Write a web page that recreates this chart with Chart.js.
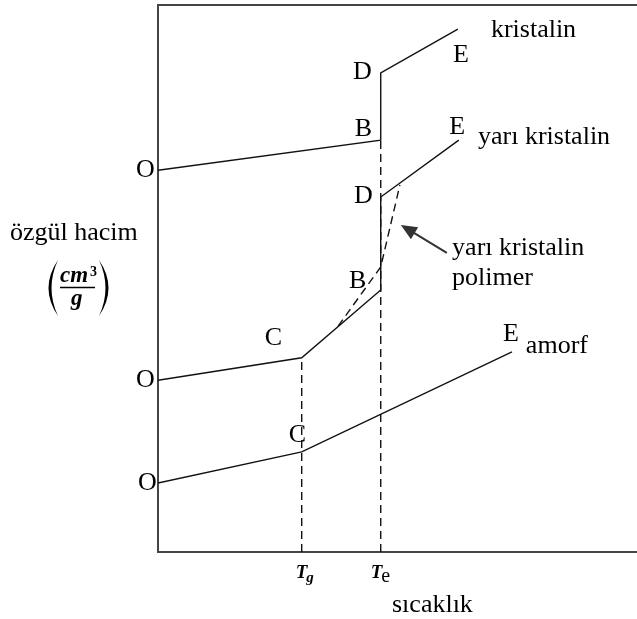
<!DOCTYPE html>
<html>
<head>
<meta charset="utf-8">
<script src="https://cdn.jsdelivr.net/npm/chart.js@4/dist/chart.umd.min.js"></script>
<style>
  body { margin: 0; background: #fff; }
  canvas { display: block; }
</style>
</head>
<body>
<canvas id="myChart" width="637" height="619"></canvas>
<script>
// transition temperatures on the temperature axis
const Tg = 30;
const Te = 46.5;

// crystalline polymer: O -> B, melting jump B -> D, then D -> E
const kristalinX = [0, Te, Te, 62.6];
const kristalinY = [69.8, 75.3, 87.6, 95.6];

// semi-crystalline: O -> C (glass), C -> B, jump B -> D, D -> E
const yariX = [0, Tg, Te, Te, 62.8];
const yariY = [31.4, 35.5, 47.9, 64.9, 75.3];

// amorphous: O -> C, C -> E
const amorfX = [0, Tg, 73.9];
const amorfY = [12.6, 18.3, 36.6];

// real semi-crystalline polymer (gradual melting, dashed)
const polimerX = [37.6, Te, 50.5];
const polimerY = [41.3, 52.1, 67.1];

const tickLabels = ['T', 'T'];
const tickSubs = ['g', 'e'];

const FONT = '"Liberation Serif", "Times New Roman", serif';

const pts = (xs, ys) => xs.map((x, i) => ({ x: x, y: ys[i] }));

// letters and captions, anchored in data units (left edge, baseline)
const notes = [
  { text: 'kristalin', x: 69.5, y: 94.1 },
  { text: 'E', x: 61.6, y: 89.6 },
  { text: 'D', x: 40.7, y: 86.5 },
  { text: 'B', x: 41.1, y: 76.1 },
  { text: 'O', x: -4.6, y: 68.6 },
  { text: 'E', x: 60.8, y: 76.4 },
  { text: 'yarı kristalin', x: 66.8, y: 74.6 },
  { text: 'D', x: 40.9, y: 63.8 },
  { text: 'B', x: 39.9, y: 48.3 },
  { text: 'yarı kristalin', x: 61.4, y: 54.3 },
  { text: 'polimer', x: 61.4, y: 48.8 },
  { text: 'C', x: 22.3, y: 37.8 },
  { text: 'O', x: -4.6, y: 30.2 },
  { text: 'E', x: 72.0, y: 38.6 },
  { text: 'amorf', x: 76.8, y: 36.4 },
  { text: 'C', x: 27.3, y: 20.1 },
  { text: 'O', x: -4.2, y: 11.3 }
];

const arrow = { from: { x: 60.3, y: 54.7 }, to: { x: 50.7, y: 59.8 } };

const solid = (data) => ({
  data: data, showLine: true, borderColor: '#111', borderWidth: 1.4,
  pointRadius: 0, fill: false, order: 1
});
const dashed = (data) => ({
  data: data, showLine: true, borderColor: '#111', borderWidth: 1.4,
  borderDash: [8, 5], pointRadius: 0, fill: false, order: 2
});

const decorations = {
  id: 'decorations',
  afterDraw(chart) {
    const ctx = chart.ctx;
    const xs = chart.scales.x, ys = chart.scales.y;
    const area = chart.chartArea;
    ctx.save();

    // top edge of the frame
    ctx.strokeStyle = '#444';
    ctx.lineWidth = 2;
    ctx.beginPath();
    ctx.moveTo(area.left - 1, area.top);
    ctx.lineTo(area.right, area.top);
    ctx.stroke();

    ctx.fillStyle = '#000';
    ctx.textAlign = 'left';
    ctx.textBaseline = 'alphabetic';
    ctx.font = '26px ' + FONT;
    notes.forEach(n => {
      ctx.fillText(n.text, xs.getPixelForValue(n.x), ys.getPixelForValue(n.y));
    });

    // arrow to the dashed curve
    const ax1 = xs.getPixelForValue(arrow.from.x), ay1 = ys.getPixelForValue(arrow.from.y);
    const ax2 = xs.getPixelForValue(arrow.to.x), ay2 = ys.getPixelForValue(arrow.to.y);
    const ang = Math.atan2(ay2 - ay1, ax2 - ax1);
    ctx.strokeStyle = '#333';
    ctx.lineWidth = 2;
    ctx.beginPath();
    ctx.moveTo(ax1, ay1);
    ctx.lineTo(ax2 - 10 * Math.cos(ang), ay2 - 10 * Math.sin(ang));
    ctx.stroke();
    ctx.fillStyle = '#333';
    ctx.beginPath();
    ctx.moveTo(ax2, ay2);
    ctx.lineTo(ax2 - 16 * Math.cos(ang) + 7 * Math.sin(ang), ay2 - 16 * Math.sin(ang) - 7 * Math.cos(ang));
    ctx.lineTo(ax2 - 16 * Math.cos(ang) - 7 * Math.sin(ang), ay2 - 16 * Math.sin(ang) + 7 * Math.cos(ang));
    ctx.closePath();
    ctx.fill();

    // temperature marks under the axis
    ctx.fillStyle = '#000';
    const base = area.bottom + 26;
    [Tg, Te].forEach((t, i) => {
      const px = xs.getPixelForValue(t);
      const tx = px - (i === 0 ? 6 : 10);
      ctx.font = 'bold italic 19px ' + FONT;
      ctx.fillText(tickLabels[i], tx, base);
      const w = ctx.measureText(tickLabels[i]).width;
      ctx.font = (i === 0 ? 'bold italic 15px ' : '20px ') + FONT;
      ctx.fillText(tickSubs[i], tx + w - 1, base + 4);
    });

    ctx.font = '26px ' + FONT;
    ctx.fillText('sıcaklık', area.left + 234, area.bottom + 60);

    // vertical axis caption with unit fraction
    ctx.fillText('özgül hacim', 10, 240);
    ctx.font = 'bold italic 23px ' + FONT;
    ctx.fillText('cm', 60, 282);
    ctx.font = 'bold 14px ' + FONT;
    ctx.fillText('3', 90, 276);
    ctx.font = 'bold italic 23px ' + FONT;
    ctx.fillText('g', 71, 305);
    ctx.strokeStyle = '#000';
    ctx.lineWidth = 1.3;
    ctx.beginPath();
    ctx.moveTo(60, 287.5);
    ctx.lineTo(95, 287.5);
    ctx.stroke();

    // parentheses as crescents
    const paren = (xEdge, xMid1, xMid2, top, bot) => {
      const mid = (top + bot) / 2;
      ctx.beginPath();
      ctx.moveTo(xEdge, top);
      ctx.quadraticCurveTo(xMid1, mid, xEdge, bot);
      ctx.quadraticCurveTo(xMid2, mid, xEdge, top);
      ctx.fill();
    };
    paren(58, 39, 45, 260, 316);
    paren(99, 118, 112, 260, 316);

    ctx.restore();
  }
};

const config = {
  type: 'scatter',
  data: {
    datasets: [
      dashed(pts([Tg, Tg], [0, yariY[1]])),
      dashed(pts([Te, Te], [0, kristalinY[1]])),
      dashed(pts(polimerX, polimerY)),
      solid(pts(kristalinX, kristalinY)),
      solid(pts(yariX, yariY)),
      solid(pts(amorfX, amorfY))
    ]
  },
  options: {
    responsive: false,
    animation: false,
    layout: { padding: { left: 158, top: 5, right: 0, bottom: 67 } },
    plugins: {
      legend: { display: false },
      tooltip: { enabled: false }
    },
    scales: {
      x: {
        type: 'linear', min: 0, max: 100,
        grid: { display: false, drawTicks: false },
        ticks: { display: false },
        border: { display: true, color: '#444', width: 2 }
      },
      y: {
        type: 'linear', min: 0, max: 100,
        grid: { display: false, drawTicks: false },
        ticks: { display: false },
        border: { display: true, color: '#444', width: 2 }
      }
    }
  },
  plugins: [decorations]
};

const ctx = document.getElementById('myChart');
const myChart = new Chart(ctx, config);
</script>
</body>
</html>
